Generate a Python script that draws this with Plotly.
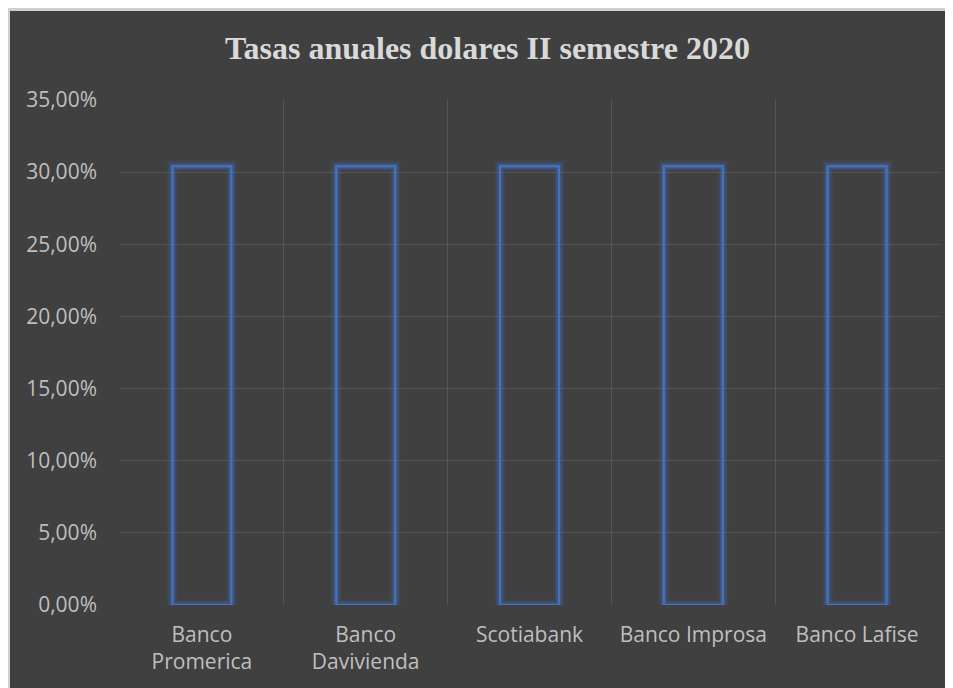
import plotly.graph_objects as go

categories = ["Banco<br>Promerica", "Banco<br>Davivienda", "Scotiabank", "Banco Improsa", "Banco Lafise"]
rates = [0.304, 0.304, 0.304, 0.304, 0.304]
x_pos = list(range(len(categories)))
boundaries = [i + 0.5 for i in x_pos]

BG = "#404040"
BLUE = "#4472C4"
GRID = "#555555"
TXT = "#BFBFBF"
BORDER = "#D0D0D0"

W, H = 945, 680
ML, MR, MT, MB = 112, 14, 92, 83
pw = W - ML - MR
ph = H - MT - MB

def px_x(p):
    return (p - ML) / pw

def px_y(p):
    return (H - MB - p) / ph

fig = go.Figure()
# glow layers
for lw, col in [(12, "rgba(68,114,196,0.08)"), (8, "rgba(68,114,196,0.16)"), (5, "rgba(68,114,196,0.30)")]:
    fig.add_trace(go.Bar(x=x_pos, y=rates, width=0.36,
                         marker=dict(color="rgba(0,0,0,0)", line=dict(color=col, width=lw)),
                         hoverinfo="skip", showlegend=False))
fig.add_trace(go.Bar(x=x_pos, y=rates, width=0.36,
                     marker=dict(color="rgba(0,0,0,0)", line=dict(color=BLUE, width=2)),
                     showlegend=False))

fig.update_layout(
    width=W, height=H,
    margin=dict(l=ML, r=MR, t=MT, b=MB),
    barmode="overlay",
    paper_bgcolor=BG,
    plot_bgcolor=BG,
    separators=",.",
    title=dict(text="<b>Tasas anuales dolares II semestre 2020</b>",
               font=dict(family="Liberation Serif", size=32, color="#D9D9D9"),
               x=(487.5 - 8) / W, xanchor="center", y=1 - 40 / H, yanchor="middle",
               xref="container", yref="container"),
    font=dict(family="Open Sans", size=21, color=TXT),
    shapes=[
        dict(type="rect", xref="paper", yref="paper", layer="below",
             x0=px_x(-5), x1=px_x(2), y0=px_y(H + 20), y1=px_y(-5),
             fillcolor=BORDER, line=dict(width=0)),
        dict(type="rect", xref="paper", yref="paper", layer="below",
             x0=px_x(-5), x1=px_x(W + 20), y0=px_y(3), y1=px_y(-5),
             fillcolor=BORDER, line=dict(width=0)),
    ],
)

fig.update_xaxes(range=[-0.5, 4.5], tickvals=x_pos, ticktext=categories,
                 showgrid=False, zeroline=False, showline=False, ticks="",
                 ticklabelstandoff=15,
                 minor=dict(tickvals=boundaries, showgrid=True, gridcolor=GRID, gridwidth=1, ticks=""))
fig.update_yaxes(range=[0, 0.35], dtick=0.05, tickformat=".2%",
                 showgrid=True, gridcolor=GRID, gridwidth=1, zeroline=False,
                 showline=False, ticks="", ticklabelstandoff=22)

fig.write_html("out.html")
